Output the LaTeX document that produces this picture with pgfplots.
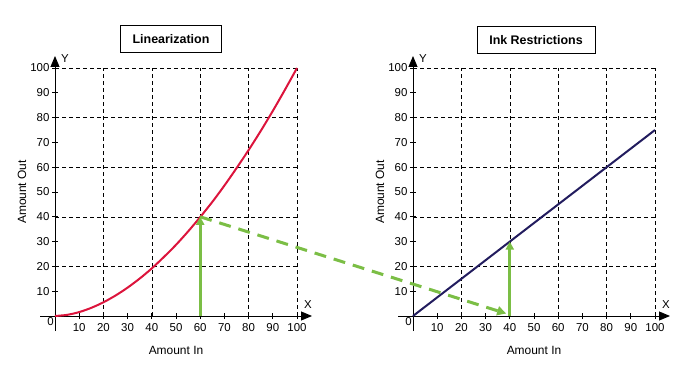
\documentclass[border=0pt]{standalone}
\usepackage{fontspec}
\setmainfont{Liberation Sans}
\usepackage{pgfplots}
\pgfplotsset{compat=1.18}
\usetikzlibrary{arrows.meta}

\definecolor{curvered}{HTML}{DC143C}
\definecolor{navy}{HTML}{221C5E}
\definecolor{grn}{HTML}{7BBE45}

\pgfplotsset{
  myax/.style={
    scale only axis, width=242bp, height=248bp,
    xmin=0, xmax=100, ymin=0, ymax=100,
    axis lines=middle, clip=false,
    axis line style={line width=0.9pt, black},
    x axis line style={-{Triangle[width=9bp,length=11bp]}, shorten <=-15bp, shorten >=-15bp},
    y axis line style={-{Triangle[width=9bp,length=11bp]}, shorten <=-15bp, shorten >=-12bp},
    xtick={10,20,...,100}, ytick={10,20,...,100},
    tick align=center, major tick length=6bp,
    tick style={black, line width=0.8pt},
    extra x ticks={20,40,...,100}, extra y ticks={20,40,...,100},
    extra x tick labels={}, extra y tick labels={},
    extra tick style={grid=major, major tick length=0pt,
      major grid style={black, line width=0.6pt, dash pattern=on 4bp off 3bp}},
    tick label style={font=\fontsize{11.5}{13}\selectfont, black},
    xticklabel style={yshift=-1bp},
    yticklabel style={xshift=1bp},
    /pgf/number format/assume math mode=true,
    xlabel={Amount In}, ylabel={Amount Out},
    label style={font=\fontsize{12}{14}\selectfont},
    xlabel style={at={(axis cs:50,-13.7)}, anchor=center},
    ylabel style={at={(axis cs:-13.6,50)}, anchor=center, rotate=90},
  }
}

\begin{document}
\begin{tikzpicture}
\useasboundingbox (0,0) rectangle (688bp,371bp);

\begin{axis}[myax, anchor=south west, at={(55bp,55bp)}]
  \addplot[curvered, line width=2bp, smooth] coordinates {
    (0,0) (5,0.46) (10,1.58) (15,3.29) (20,5.52) (25,8.25) (30,11.45)
    (35,15.1) (40,19.2) (45,23.8) (50,28.7) (55,34.1) (60,39.9)
    (65,46.0) (70,52.6) (75,59.6) (80,66.9) (85,74.6) (90,82.7)
    (95,91.2) (100,100)};
  \addplot[grn, line width=3bp, -{Triangle[width=8bp,length=8bp]}] coordinates {(60,0) (60,40)};
  \coordinate (L) at (axis cs:60,40);
  \node[anchor=north east, inner sep=1bp, font=\fontsize{11.5}{13}\selectfont] at (axis cs:0,0) {0};
  \node[font=\fontsize{11.5}{13}\selectfont] at ([xshift=11bp,yshift=11bp]axis cs:100,0) {X};
  \node[font=\fontsize{11.5}{13}\selectfont] at ([xshift=10bp,yshift=9bp]axis cs:0,100) {Y};
\end{axis}

\begin{axis}[myax, anchor=south west, at={(413bp,55bp)}]
  \addplot[navy, line width=2bp] coordinates {(0,0) (100,75)};
  \addplot[grn, line width=3bp, -{Triangle[width=8bp,length=8bp]}] coordinates {(40,0) (40,30)};
  \coordinate (R) at (axis cs:38.5,1);
  \node[anchor=north east, inner sep=1bp, font=\fontsize{11.5}{13}\selectfont] at (axis cs:0,0) {0};
  \node[font=\fontsize{11.5}{13}\selectfont] at ([xshift=11bp,yshift=11bp]axis cs:100,0) {X};
  \node[font=\fontsize{11.5}{13}\selectfont] at ([xshift=10bp,yshift=9bp]axis cs:0,100) {Y};
\end{axis}

\draw[grn, line width=3bp, dash pattern=on 12bp off 8bp, -{Triangle[width=9bp,length=9bp]}] (L) -- (R);

\node[draw=black, line width=0.8pt, minimum width=101bp, minimum height=27bp, inner sep=2bp,
      font=\bfseries\fontsize{12.5}{14}\selectfont] at (171bp,332bp) {Linearization};
\node[draw=black, line width=0.8pt, minimum width=118bp, minimum height=27bp, inner sep=2bp,
      font=\bfseries\fontsize{12.5}{14}\selectfont] at (536bp,331bp) {Ink Restrictions};
\end{tikzpicture}
\end{document}
